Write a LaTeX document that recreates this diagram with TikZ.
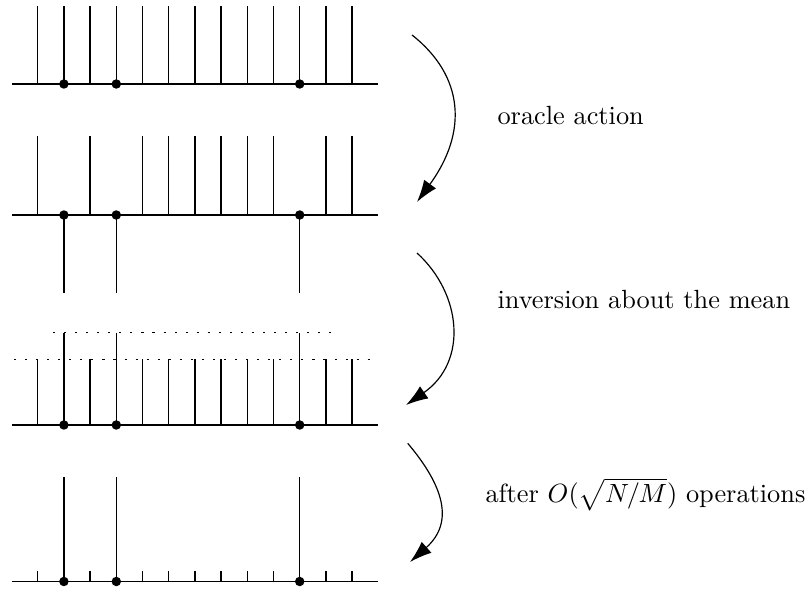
\documentclass[tikz,border=0pt]{standalone}
\usetikzlibrary{arrows.meta}
\begin{document}
\begin{tikzpicture}[x=0.38pt,y=-0.38pt,
  axisline/.style={line width=0.5pt},
  stem/.style={line width=0.5pt},
  meanline/.style={line width=0.5pt, dash pattern=on 0.8pt off 3.4pt},
  flow/.style={line width=0.45pt,-{Latex[length=8.4pt,width=5.6pt]}},
  lab/.style={anchor=base west,inner sep=0pt},
  dotmark/.style={fill=black}]
\useasboundingbox (0,0) rectangle (810,592);
% ---------- row 1 ----------
\foreach \i in {0,...,12} \draw[stem] ({37.7+26.2*\i},84) -- ({37.7+26.2*\i},6);
\draw[axisline] (12,84) -- (378,84);
\foreach \i in {1,3,10} \fill[dotmark] ({37.7+26.2*\i},84) circle[radius=1.8pt];
% ---------- row 2 ----------
\foreach \i in {0,2,4,5,6,7,8,9,11,12} \draw[stem] ({37.7+26.2*\i},215) -- ({37.7+26.2*\i},136);
\foreach \i in {1,3,10} \draw[stem] ({37.7+26.2*\i},215) -- ({37.7+26.2*\i},293.3);
\draw[axisline] (12,215) -- (378,215);
\foreach \i in {1,3,10} \fill[dotmark] ({37.7+26.2*\i},215) circle[radius=1.8pt];
% ---------- row 3 ----------
\draw[meanline] (53,332.7) -- (340,332.7);
\draw[meanline] (14,359.3) -- (373,359.3);
\foreach \i in {0,2,4,5,6,7,8,9,11,12} \draw[stem] ({37.7+26.2*\i},425) -- ({37.7+26.2*\i},359.3);
\foreach \i in {1,3,10} \draw[stem] ({37.7+26.2*\i},425) -- ({37.7+26.2*\i},332.7);
\draw[axisline] (12,425) -- (378,425);
\foreach \i in {1,3,10} \fill[dotmark] ({37.7+26.2*\i},425) circle[radius=1.8pt];
% ---------- row 4 ----------
\foreach \i in {0,2,4,5,6,7,8,9,11,12} \draw[stem] ({37.7+26.2*\i},581.5) -- ({37.7+26.2*\i},571);
\foreach \i in {1,3,10} \draw[stem] ({37.7+26.2*\i},581.5) -- ({37.7+26.2*\i},477.3);
\draw[axisline] (12,581.5) -- (378,581.5);
\foreach \i in {1,3,10} \fill[dotmark] ({37.7+26.2*\i},581.5) circle[radius=1.8pt];
% ---------- arrows ----------
\coordinate (a1s) at (412,35);   \coordinate (a1e) at (417,202);
\coordinate (a2s) at (417,253);  \coordinate (a2e) at (406,405);
\coordinate (a3s) at (407.7,443.3);  \coordinate (a3e) at (410,562);
\draw[flow] (a1s) .. controls (464,76) and (468,132) .. (a1e);
\draw[flow] (a2s) .. controls (462,294) and (468,362) .. (a2e);
\draw[flow] (a3s) .. controls (443,485) and (455,522) .. (a3e);
% ---------- labels ----------
\node[lab] (l1) at (497,125) {oracle action};
\node[lab] (l2) at (497,308) {inversion about the mean};
\node[lab] (l3) at (485,502.7) {after $O(\sqrt{N/M})$ operations};
\end{tikzpicture}
\end{document}
